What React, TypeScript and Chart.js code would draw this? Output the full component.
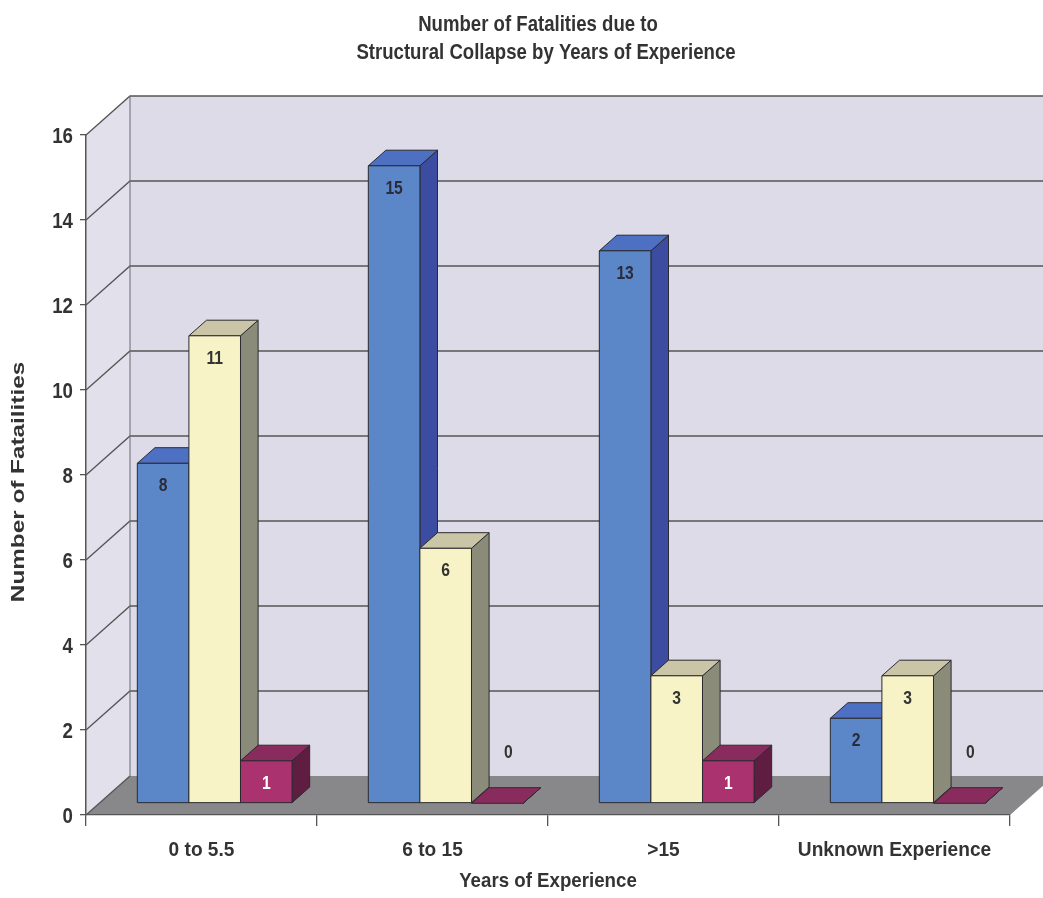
import React, { useEffect, useRef } from 'react';
import { Chart, registerables } from 'chart.js';

Chart.register(...registerables);

// Fatalities by years of experience
const categories = ['0 to 5.5', '6 to 15', '>15', 'Unknown Experience'];
const seriesBlue = [8, 15, 13, 2];
const seriesCream = [11, 6, 3, 3];
const seriesPlum = [1, 0, 1, 0];
const seriesNames = ['Series 1', 'Series 2', 'Series 3'];

const titleLines = ['Number of Fatalities due to', 'Structural Collapse by Years of Experience'];
const xTitle = 'Years of Experience';
const yTitle = 'Number of Fatailities';

const FONT = '"Liberation Sans", Arial, sans-serif';
const TEXT = '#333333';
const LINE = '#555555';

// 3D room: offset from the front plane to the back wall
const DEPTH_X = 44;
const DEPTH_Y = -39;
// bars sit part-way into the room and have this much depth
const BAR_FRONT = 0.3;
const BAR_DEPTH = 0.4;

const faces = [
  { front: '#5b87c9', top: '#4d70c2', side: '#3c4ca0', label: '#2b2b3a' },
  { front: '#f7f3c6', top: '#c9c5a6', side: '#8b8b79', label: '#333333' },
  { front: '#a9326f', top: '#8a2b5e', side: '#5f1d42', label: '#ffffff' },
];

// condensed bold text: a horizontally squeezed sans
function drawText(
  ctx: CanvasRenderingContext2D,
  text: string,
  x: number,
  y: number,
  size: number,
  squeeze: number,
  align: CanvasTextAlign,
  baseline: CanvasTextBaseline = 'alphabetic',
  color = TEXT,
) {
  ctx.save();
  ctx.translate(x, y);
  ctx.scale(squeeze, 1);
  ctx.font = `bold ${size}px ${FONT}`;
  ctx.fillStyle = color;
  ctx.textAlign = align;
  ctx.textBaseline = baseline;
  ctx.fillText(text, 0, 0);
  ctx.restore();
}

const roomPlugin = {
  id: 'room',
  beforeDraw(chart: any) {
    const ctx = chart.ctx as CanvasRenderingContext2D;
    const { left, right } = chart.chartArea;
    const ys = chart.scales.y;
    const y0 = ys.getPixelForValue(0);
    const yTop = ys.getPixelForValue(ys.max);
    ctx.save();
    // left wall
    ctx.fillStyle = '#e2e0eb';
    ctx.beginPath();
    ctx.moveTo(left, yTop);
    ctx.lineTo(left + DEPTH_X, yTop + DEPTH_Y);
    ctx.lineTo(left + DEPTH_X, y0 + DEPTH_Y);
    ctx.lineTo(left, y0);
    ctx.closePath();
    ctx.fill();
    // back wall
    ctx.fillStyle = '#dddbe7';
    ctx.fillRect(left + DEPTH_X, yTop + DEPTH_Y, right - left, y0 - yTop);
    // floor
    ctx.fillStyle = '#88888b';
    ctx.beginPath();
    ctx.moveTo(left, y0);
    ctx.lineTo(right, y0);
    ctx.lineTo(right + DEPTH_X, y0 + DEPTH_Y);
    ctx.lineTo(left + DEPTH_X, y0 + DEPTH_Y);
    ctx.closePath();
    ctx.fill();
    // gridlines along the left wall and back wall
    ctx.strokeStyle = LINE;
    ctx.lineWidth = 1.3;
    for (const t of ys.ticks) {
      const py = ys.getPixelForValue(t.value);
      ctx.beginPath();
      ctx.moveTo(left, py);
      ctx.lineTo(left + DEPTH_X, py + DEPTH_Y);
      if (t.value !== 0) ctx.lineTo(right + DEPTH_X, py + DEPTH_Y);
      ctx.stroke();
    }
    ctx.strokeStyle = '#6a6a72';
    ctx.lineWidth = 1;
    ctx.beginPath();
    ctx.moveTo(left + DEPTH_X, yTop + DEPTH_Y);
    ctx.lineTo(left + DEPTH_X, y0 + DEPTH_Y);
    ctx.stroke();
    ctx.restore();
  },
  beforeDatasetsDraw(chart: any) {
    const ctx = chart.ctx as CanvasRenderingContext2D;
    const bx = DEPTH_X * BAR_FRONT;
    const by = DEPTH_Y * BAR_FRONT;
    const dx = DEPTH_X * BAR_DEPTH;
    const dy = DEPTH_Y * BAR_DEPTH;
    const n = chart.data.labels.length;
    ctx.save();
    ctx.lineWidth = 1;
    ctx.strokeStyle = '#2a2a30';
    ctx.lineJoin = 'round';
    for (let i = 0; i < n; i++) {
      chart.data.datasets.forEach((ds: any, d: number) => {
        const el = chart.getDatasetMeta(d).data[i];
        const { x, y, base, width } = el.getProps(['x', 'y', 'base', 'width'], true);
        const l = x - width / 2 + bx;
        const r = x + width / 2 + bx;
        const t = y + by;
        const b = base + by;
        const c = faces[d];
        // side
        ctx.fillStyle = c.side;
        ctx.beginPath();
        ctx.moveTo(r, t);
        ctx.lineTo(r + dx, t + dy);
        ctx.lineTo(r + dx, b + dy);
        ctx.lineTo(r, b);
        ctx.closePath();
        ctx.fill();
        ctx.stroke();
        // top
        ctx.fillStyle = c.top;
        ctx.beginPath();
        ctx.moveTo(l, t);
        ctx.lineTo(l + dx, t + dy);
        ctx.lineTo(r + dx, t + dy);
        ctx.lineTo(r, t);
        ctx.closePath();
        ctx.fill();
        ctx.stroke();
        // front
        if (b - t > 0.5) {
          ctx.fillStyle = c.front;
          ctx.fillRect(l, t, r - l, b - t);
          ctx.strokeRect(l, t, r - l, b - t);
        }
        // value label
        const v = ds.data[i];
        if (v > 0) {
          drawText(ctx, String(v), (l + r) / 2, t + 23, 18, 0.87, 'center', 'middle', c.label);
        } else {
          drawText(ctx, String(v), (l + r) / 2 + 11, b - 50, 18, 0.87, 'center', 'middle', TEXT);
        }
      });
    }
    ctx.restore();
    return false;
  },
  afterDraw(chart: any) {
    const ctx = chart.ctx as CanvasRenderingContext2D;
    const xs = chart.scales.x;
    const ys = chart.scales.y;
    // y tick labels
    ys.ticks.forEach((t: any) => {
      const py = ys.getPixelForValue(t.value);
      drawText(ctx, String(t.value), xs.left - 13, py + 8, 22, 0.85, 'right');
    });
    // category labels
    xs.ticks.forEach((t: any, i: number) => {
      const px = xs.getPixelForTick(i);
      drawText(ctx, String(chart.data.labels[t.value] ?? t.label), px, 856, 21, 0.91, 'center');
    });
    // titles
    drawText(ctx, titleLines[0], 538, 31, 22, 0.845, 'center');
    drawText(ctx, titleLines[1], 546, 59, 22, 0.845, 'center');
    drawText(ctx, xTitle, 548, 887, 21, 0.89, 'center');
    ctx.save();
    ctx.translate(19, 482);
    ctx.rotate(-Math.PI / 2);
    ctx.scale(1.35, 1);
    ctx.font = `bold 18px ${FONT}`;
    ctx.fillStyle = TEXT;
    ctx.textAlign = 'center';
    ctx.textBaseline = 'middle';
    ctx.fillText(yTitle, 0, 0);
    ctx.restore();
  },
};

export default function App() {
  const ref = useRef<HTMLCanvasElement>(null);
  useEffect(() => {
    if (!ref.current) return;
    const series = [seriesBlue, seriesCream, seriesPlum];
    const chart = new Chart(ref.current, {
      type: 'bar',
      data: {
        labels: categories,
        datasets: series.map((data, i) => ({
          label: seriesNames[i],
          data,
          backgroundColor: faces[i].front,
          categoryPercentage: 0.67,
          barPercentage: 1,
        })),
      },
      options: {
        animation: false,
        responsive: false,
        devicePixelRatio: 1,
        layout: { padding: { top: 135, right: 33, bottom: 0, left: 0 } },
        plugins: {
          legend: { display: false },
          title: { display: false },
          tooltip: { enabled: false },
        },
        scales: {
          x: {
            offset: true,
            grid: {
              offset: true,
              drawOnChartArea: false,
              drawTicks: true,
              tickLength: 11,
              color: LINE,
              lineWidth: 1.3,
            },
            border: { display: true, color: LINE, width: 1.3 },
            ticks: { display: false, autoSkip: false, maxRotation: 0 },
            afterFit(scale: any) {
              scale.height = 83;
              scale.paddingLeft = 0;
              scale.paddingRight = 0;
            },
          },
          y: {
            min: 0,
            max: 16,
            grid: {
              drawOnChartArea: false,
              drawTicks: true,
              tickLength: 6,
              color: LINE,
              lineWidth: 1.3,
            },
            border: { display: true, color: LINE, width: 1.5 },
            ticks: { display: false, stepSize: 2 },
            afterFit(scale: any) {
              scale.width = 86;
              scale.paddingTop = 0;
              scale.paddingBottom = 0;
            },
          },
        },
      },
      plugins: [roomPlugin],
    });
    return () => chart.destroy();
  }, []);

  return (
    <div style={{ position: 'absolute', left: 0, top: 0, width: 1043, height: 898, background: '#ffffff' }}>
      <canvas ref={ref} width={1043} height={898} />
    </div>
  );
}
